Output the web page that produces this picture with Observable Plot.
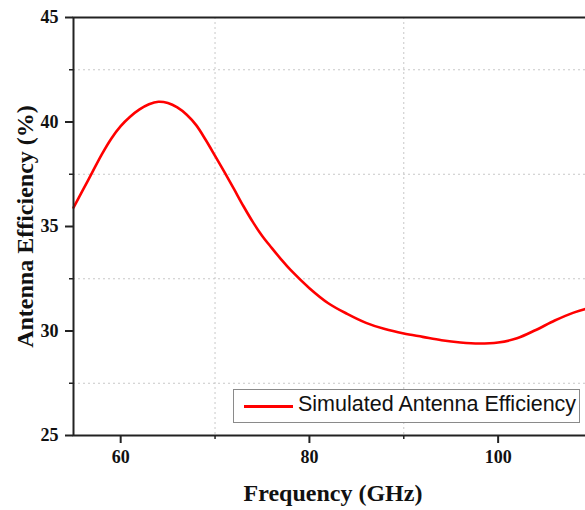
<!DOCTYPE html>
<html>
<head>
<meta charset="utf-8">
<script src="https://cdn.jsdelivr.net/npm/d3@7"></script>
<script src="https://cdn.jsdelivr.net/npm/@observablehq/plot@0.6"></script>
<style>
  html, body { margin: 0; padding: 0; background: #fff; }
  #wrap { position: relative; width: 585px; height: 510px; overflow: hidden; }
  #wrap svg { max-width: none !important; }
  #legend { position: absolute; left: 233px; top: 389px; width: 347px; height: 34px;
    border: 1px solid #8a8a8a; background: #fff; box-sizing: border-box; }
  #legend .sw { position: absolute; left: 10px; top: 15px; width: 49px; height: 3px; background: #ff0000; }
  #legend .lb { position: absolute; left: 64px; top: 2px; font: 21.5px "Liberation Sans", Arial, sans-serif; color: #111; white-space: nowrap; }
</style>
</head>
<body>
<div id="wrap"></div>
<script>
const freq = [55, 56, 57, 58, 59, 60, 61, 62, 63, 64, 65, 66, 67, 68, 69, 70, 71, 72, 73, 74, 75, 76, 77, 78, 80, 82, 84, 86, 88, 90, 92, 94, 96, 98, 100, 102, 104, 106, 108, 110];
const efficiency = [35.9, 36.75, 37.6, 38.45, 39.2, 39.8, 40.25, 40.6, 40.85, 40.97, 40.91, 40.7, 40.35, 39.85, 39.15, 38.38, 37.6, 36.8, 35.98, 35.22, 34.55, 33.98, 33.43, 32.92, 32.05, 31.33, 30.82, 30.39, 30.09, 29.88, 29.72, 29.56, 29.45, 29.4, 29.45, 29.65, 30.05, 30.5, 30.88, 31.15];
const seriesName = "Simulated Antenna Efficiency";
const xMajor = [60, 80, 100];
const xMinor = [70, 90];
const yMajor = [25, 30, 35, 40, 45];
const yMinor = [27.5, 32.5, 37.5, 42.5];
const xTitle = "Frequency (GHz)";
const yTitle = "Antenna Efficiency (%)";

const data = freq.map((f, i) => ({f, e: efficiency[i]}));
const serif = "'Liberation Serif', 'Times New Roman', serif";

const chart = Plot.plot({
  width: 600,
  height: 510,
  marginLeft: 73,
  marginRight: 8,
  marginTop: 17,
  marginBottom: 75,
  style: {background: "#fff", fontFamily: serif, maxWidth: "none"},
  x: {domain: [55, 110]},
  y: {domain: [25, 45]},
  marks: [
    Plot.gridY(yMinor, {stroke: "#c8c8c8", strokeOpacity: 1, strokeDasharray: "2,3", strokeWidth: 1}),
    Plot.gridX(xMinor, {stroke: "#c8c8c8", strokeOpacity: 1, strokeDasharray: "2,3", strokeWidth: 1}),
    Plot.line(data, {x: "f", y: "e", stroke: "#ff0000", strokeWidth: 2.6, curve: "catmull-rom"}),
    Plot.frame({stroke: "#222", strokeWidth: 2}),
    Plot.axisY(yMajor, {anchor: "left", tickSize: 8, tickPadding: 7, strokeWidth: 2, stroke: "#222",
      fontSize: 18, fontWeight: "bold", fill: "#111", label: null}),
    Plot.axisY(yMinor, {anchor: "left", tickSize: 4, strokeWidth: 1.5, stroke: "#222", text: null, label: null}),
    Plot.axisY(yMajor, {anchor: "right", tickSize: -8, strokeWidth: 1.5, stroke: "#222", text: null, label: null}),
    Plot.axisX(xMajor, {anchor: "bottom", tickSize: 8, tickPadding: 7, strokeWidth: 2, stroke: "#222",
      fontSize: 18, fontWeight: "bold", fill: "#111", label: null}),
    Plot.axisX(xMinor, {anchor: "bottom", tickSize: 4, strokeWidth: 1.5, stroke: "#222", text: null, label: null}),
    Plot.text([xTitle], {frameAnchor: "bottom", text: d => d, dy: 58, fontSize: 24, fontWeight: "bold", fill: "#111", textAnchor: "middle", lineAnchor: "middle"}),
    Plot.text([yTitle], {frameAnchor: "left", text: d => d, dx: -48, rotate: -90, fontSize: 24, fontWeight: "bold", fill: "#111", textAnchor: "middle", lineAnchor: "middle"})
  ]
});

const wrap = document.getElementById("wrap");
wrap.appendChild(chart);
const legend = document.createElement("div");
legend.id = "legend";
legend.innerHTML = `<div class="sw"></div><div class="lb"></div>`;
legend.querySelector(".lb").textContent = seriesName;
wrap.appendChild(legend);
</script>
</body>
</html>
